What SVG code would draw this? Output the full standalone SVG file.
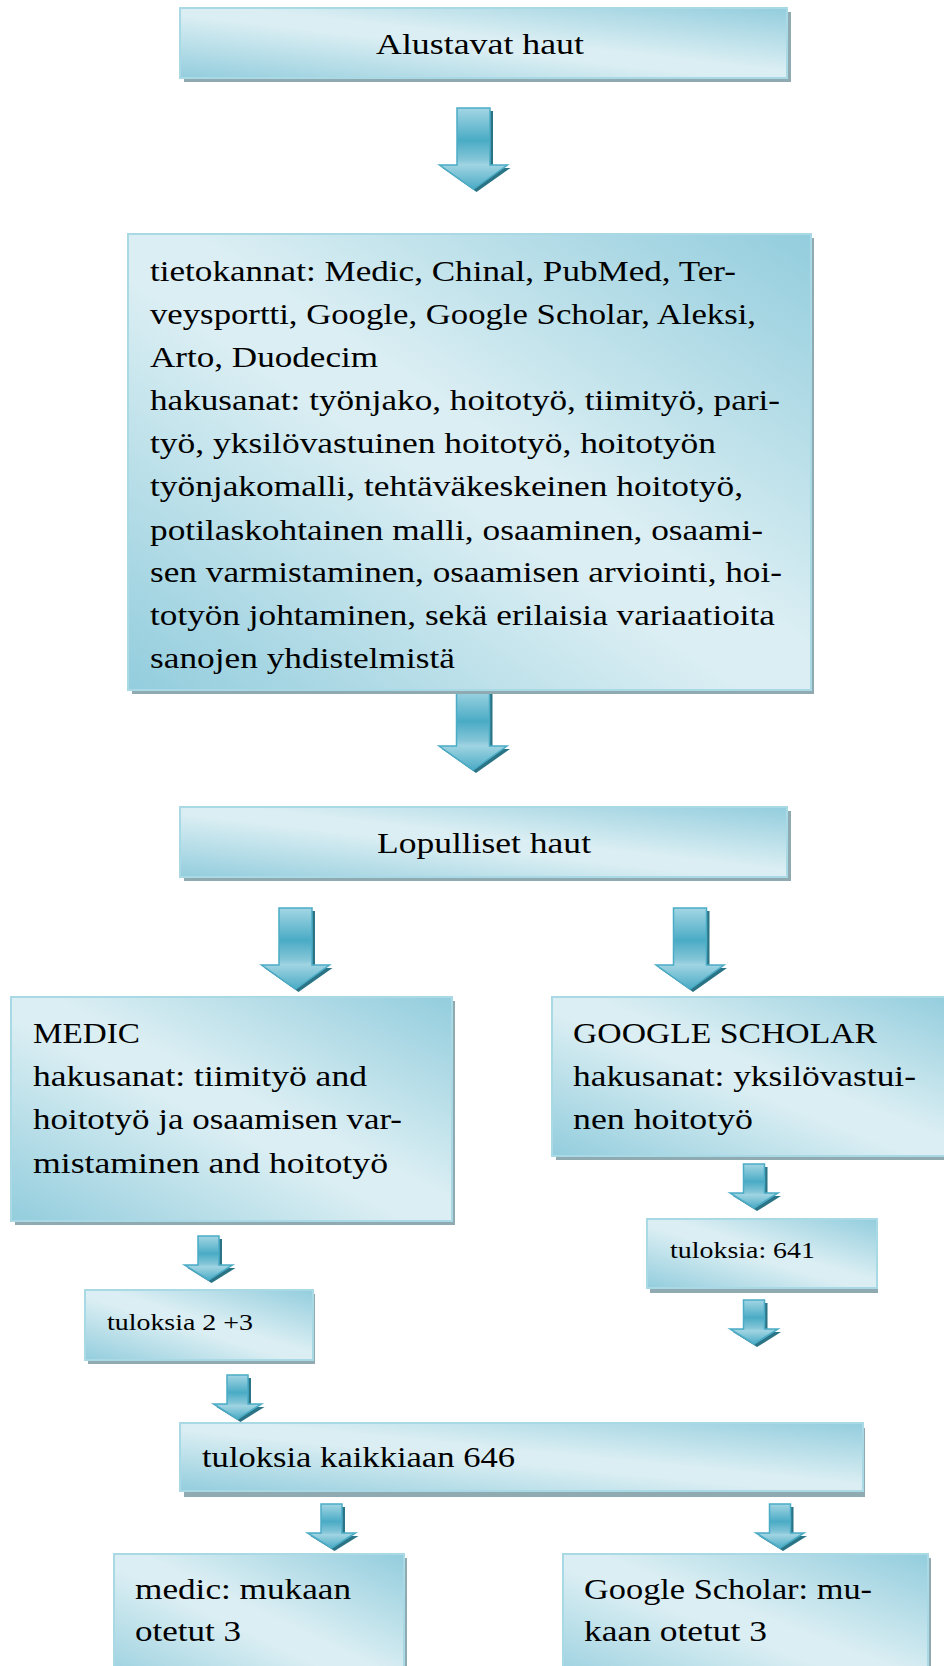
<svg xmlns="http://www.w3.org/2000/svg" width="944" height="1666" viewBox="0 0 944 1666">
<style>
.box{fill:url(#bg);stroke:#a9d9e5;stroke-width:2}
.shd{fill:#8faab1}
text{font-family:"Liberation Serif","Times New Roman",serif;font-size:30px;fill:#000}
.s{font-size:23px}
.m{font-size:29px}
.af{fill:url(#ag);stroke:#4bacc6;stroke-width:1.5}
.as{fill:#2b7486}
</style>
<defs>
<linearGradient id="bg" x1="0" y1="1" x2="1" y2="0">
<stop offset="0" stop-color="#93cddd"/>
<stop offset="0.45" stop-color="#daeef3"/>
<stop offset="0.55" stop-color="#daeef3"/>
<stop offset="1" stop-color="#93cddd"/>
</linearGradient>
<linearGradient id="ag" x1="0" y1="0" x2="0" y2="1">
<stop offset="0" stop-color="#a3d6e4"/>
<stop offset="0.4" stop-color="#4aabc5"/>
<stop offset="0.64" stop-color="#85c6d8"/>
<stop offset="0.7" stop-color="#a0d4e2"/>
<stop offset="1" stop-color="#4aabc5"/>
</linearGradient>
<path id="ab" d="M-16.5,0 H16.5 V57 H34 L0,81 L-34,57 H-16.5 Z"/>
<path id="as" d="M-10.5,0 H10.5 V29 H24 L0,44 L-24,29 H-10.5 Z"/>
</defs>

<g id="connectors">
<use href="#ab" class="as" x="476.5" y="111"/><use href="#ab" class="af" x="473.5" y="108"/>
<use href="#ab" class="as" x="476" y="692"/><use href="#ab" class="af" x="473" y="689"/>
<use href="#ab" class="as" x="298.5" y="911"/><use href="#ab" class="af" x="295.5" y="908"/>
<use href="#ab" class="as" x="693" y="911"/><use href="#ab" class="af" x="690" y="908"/>
<use href="#as" class="as" x="211.5" y="1239"/><use href="#as" class="af" x="208.5" y="1236"/>
<use href="#as" class="as" x="757" y="1167"/><use href="#as" class="af" x="754" y="1164"/>
<use href="#as" class="as" x="757" y="1303"/><use href="#as" class="af" x="754" y="1300"/>
<use href="#as" class="as" x="240.5" y="1378"/><use href="#as" class="af" x="237.5" y="1375"/>
<use href="#as" class="as" x="334.5" y="1507"/><use href="#as" class="af" x="331.5" y="1504"/>
<use href="#as" class="as" x="783" y="1507"/><use href="#as" class="af" x="780" y="1504"/>
</g>

<g id="n1">
<rect class="shd" x="184" y="12" width="607" height="70"/>
<rect class="box" x="180" y="8" width="607" height="70"/>
<text x="376" y="54" font-family="Liberation Serif" textLength="208" lengthAdjust="spacingAndGlyphs">Alustavat haut</text>
</g>

<g id="n2" font-family="Liberation Serif">
<rect class="shd" x="132" y="238" width="682" height="456"/>
<rect class="box" x="128" y="234" width="683" height="456"/>
<text x="150" y="281" textLength="586" lengthAdjust="spacingAndGlyphs">tietokannat: Medic, Chinal, PubMed, Ter-</text>
<text x="150" y="324" textLength="606" lengthAdjust="spacingAndGlyphs">veysportti, Google, Google Scholar, Aleksi,</text>
<text x="150" y="367" textLength="228" lengthAdjust="spacingAndGlyphs">Arto, Duodecim</text>
<text x="150" y="410" textLength="630" lengthAdjust="spacingAndGlyphs">hakusanat: työnjako, hoitotyö, tiimityö, pari-</text>
<text x="150" y="453" textLength="566" lengthAdjust="spacingAndGlyphs">työ, yksilövastuinen hoitotyö, hoitotyön</text>
<text x="150" y="496" textLength="593" lengthAdjust="spacingAndGlyphs">työnjakomalli, tehtäväkeskeinen hoitotyö,</text>
<text x="150" y="540" textLength="613" lengthAdjust="spacingAndGlyphs">potilaskohtainen malli, osaaminen, osaami-</text>
<text x="150" y="582" textLength="632" lengthAdjust="spacingAndGlyphs">sen varmistaminen, osaamisen arviointi, hoi-</text>
<text x="150" y="625" textLength="625" lengthAdjust="spacingAndGlyphs">totyön johtaminen, sekä erilaisia variaatioita</text>
<text x="150" y="668" textLength="305" lengthAdjust="spacingAndGlyphs">sanojen yhdistelmistä</text>
</g>

<g id="n3">
<rect class="shd" x="184" y="811" width="607" height="70"/>
<rect class="box" x="180" y="807" width="607" height="70"/>
<text x="377" y="853" textLength="214" lengthAdjust="spacingAndGlyphs">Lopulliset haut</text>
</g>

<g id="n4">
<rect class="shd" x="15" y="1001" width="440" height="224"/>
<rect class="box" x="11" y="997" width="441" height="224"/>
<text x="33" y="1043" textLength="107" lengthAdjust="spacingAndGlyphs">MEDIC</text>
<text x="33" y="1086" textLength="334" lengthAdjust="spacingAndGlyphs">hakusanat: tiimityö and</text>
<text x="33" y="1129" textLength="369" lengthAdjust="spacingAndGlyphs">hoitotyö ja osaamisen var-</text>
<text x="33" y="1173" textLength="355" lengthAdjust="spacingAndGlyphs">mistaminen and hoitotyö</text>
</g>

<g id="n5">
<rect class="shd" x="556" y="1001" width="400" height="159"/>
<rect class="box" x="552" y="997" width="400" height="159"/>
<text x="573" y="1043" textLength="304" lengthAdjust="spacingAndGlyphs">GOOGLE SCHOLAR</text>
<text x="573" y="1086" textLength="343" lengthAdjust="spacingAndGlyphs">hakusanat: yksilövastui-</text>
<text x="573" y="1129" textLength="180" lengthAdjust="spacingAndGlyphs">nen hoitotyö</text>
</g>

<g id="n6">
<rect class="shd" x="88" y="1294" width="227" height="70"/>
<rect class="box" x="85" y="1290" width="228" height="70"/>
<text class="s" x="107" y="1330" textLength="146" lengthAdjust="spacingAndGlyphs">tuloksia 2 +3</text>
</g>

<g id="n7">
<rect class="shd" x="650" y="1223" width="228" height="70"/>
<rect class="box" x="647" y="1219" width="230" height="69"/>
<text class="s" x="670" y="1258" textLength="145" lengthAdjust="spacingAndGlyphs">tuloksia: 641</text>
</g>

<g id="n8">
<rect class="shd" x="184" y="1428" width="681" height="69"/>
<rect class="box" x="180" y="1423" width="683" height="68"/>
<text class="m" x="202" y="1467" textLength="313" lengthAdjust="spacingAndGlyphs">tuloksia kaikkiaan 646</text>
</g>

<g id="n9">
<rect class="shd" x="118" y="1558" width="289" height="140"/>
<rect class="box" x="114" y="1554" width="290" height="140"/>
<text x="135" y="1599" textLength="216" lengthAdjust="spacingAndGlyphs">medic: mukaan</text>
<text x="135" y="1641" textLength="106" lengthAdjust="spacingAndGlyphs">otetut 3</text>
</g>

<g id="n10">
<rect class="shd" x="567" y="1558" width="364" height="140"/>
<rect class="box" x="563" y="1554" width="365" height="140"/>
<text x="584" y="1599" textLength="288" lengthAdjust="spacingAndGlyphs">Google Scholar: mu-</text>
<text x="584" y="1641" textLength="183" lengthAdjust="spacingAndGlyphs">kaan otetut 3</text>
</g>
</svg>
